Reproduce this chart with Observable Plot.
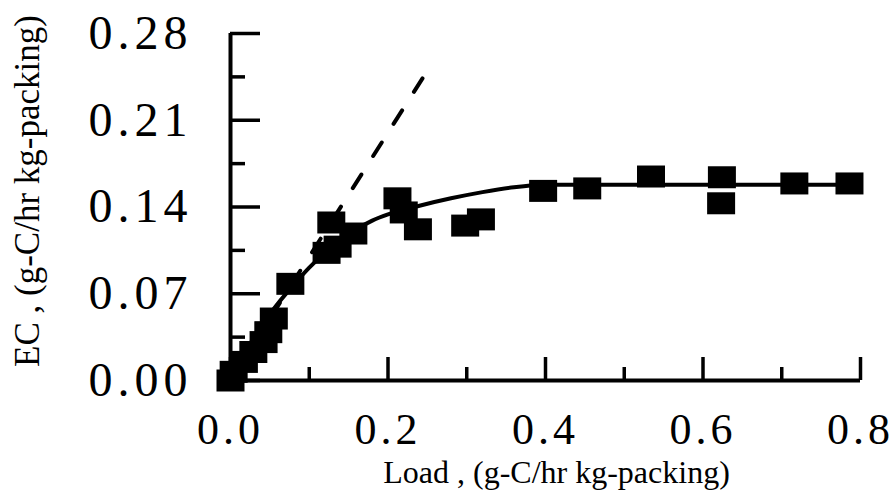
<!DOCTYPE html>
<html><head><meta charset="utf-8">
<script src="https://cdn.jsdelivr.net/npm/d3@7"></script>
<script src="https://cdn.jsdelivr.net/npm/@observablehq/plot@0.6"></script>
<style>
html,body{margin:0;padding:0;background:#fff;}
g[aria-label="x-axis tick label"] text{letter-spacing:4px;}
g[aria-label="y-axis tick label"] text{letter-spacing:5px;}
</style></head><body><div id="chart"></div>
<script>
// Measured points: Load vs EC
const loadX = [0.000, 0.004, 0.017, 0.029, 0.042, 0.048, 0.055, 0.076, 0.122, 0.136, 0.128, 0.156, 0.212, 0.220, 0.238, 0.298, 0.318, 0.397, 0.453, 0.534, 0.624, 0.623, 0.716, 0.786];
const ecY   = [0.000, 0.007, 0.015, 0.023, 0.031, 0.039, 0.050, 0.078, 0.103, 0.108, 0.1275, 0.1186, 0.147, 0.1356, 0.122, 0.125, 0.130, 0.153, 0.155, 0.1646, 0.164, 0.143, 0.159, 0.159];
// Fitted curve (solid)
const fitX = [0, 0.02, 0.04, 0.06, 0.08, 0.10, 0.12, 0.14, 0.16, 0.18, 0.20, 0.24, 0.28, 0.32, 0.36, 0.40, 0.50, 0.60, 0.70, 0.80];
const fitY = [0, 0.024, 0.045, 0.062, 0.077, 0.091, 0.103, 0.113, 0.122, 0.129, 0.134, 0.141, 0.147, 0.152, 0.156, 0.158, 0.158, 0.158, 0.158, 0.158];
// 100% removal line (dashed)
const refX = [0, 0.25];
const refY = [0, 0.25];
// Ticks
const xMajor = [0, 0.2, 0.4, 0.6, 0.8];
const xMinor = [0.1, 0.3, 0.5, 0.7];
const xTickLabels = ["0.0", "0.2", "0.4", "0.6", "0.8"];
const yMajor = [0, 0.07, 0.14, 0.21, 0.28];
const yMinor = [0.035, 0.105, 0.175, 0.245];
const yTickLabels = ["0.00", "0.07", "0.14", "0.21", "0.28"];
const xTitle = "Load , (g-C/hr kg-packing)";
const yTitle = "EC , (g-C/hr kg-packing)";

const points = loadX.map((x, i) => ({load: x, ec: ecY[i]}));
const fit = fitX.map((x, i) => ({load: x, ec: fitY[i]}));
const ref = refX.map((x, i) => ({load: x, ec: refY[i]}));

const rectSymbol = {draw(ctx) { ctx.rect(-14, -11, 28, 22); }};
const font = "'Liberation Serif', 'Times New Roman', serif";

const chart = Plot.plot({
  width: 893, height: 490,
  marginLeft: 230, marginRight: 33, marginTop: 33, marginBottom: 110,
  style: {fontFamily: font, color: "black", background: "white", overflow: "visible"},
  x: {domain: [0, 0.8], label: null},
  y: {domain: [0, 0.28], label: null},
  marks: [
    Plot.axisX(xMajor, {tickSize: 0, tickPadding: 32, fontSize: 44, label: null, fontFamily: font,
      tickFormat: d => xTickLabels[xMajor.indexOf(d)]}),
    Plot.axisX(xMajor, {tickSize: -23, strokeWidth: 3.5, label: null, tickFormat: () => ""}),
    Plot.axisX(xMinor, {tickSize: -13, strokeWidth: 3.5, label: null, tickFormat: () => ""}),
    Plot.axisY(yMajor, {tickSize: 0, tickPadding: 38, fontSize: 48, label: null, fontFamily: font,
      tickFormat: d => yTickLabels[yMajor.indexOf(d)]}),
    Plot.axisY(yMajor, {tickSize: -30, strokeWidth: 3.5, label: null, tickFormat: () => ""}),
    Plot.axisY(yMinor, {tickSize: -15, strokeWidth: 3.5, label: null, tickFormat: () => ""}),
    Plot.ruleX([0], {strokeWidth: 4}),
    Plot.ruleY([0], {strokeWidth: 4}),
    Plot.line(ref, {x: "load", y: "ec", strokeWidth: 4, strokeDasharray: "16,22", strokeLinecap: "round"}),
    Plot.line(fit, {x: "load", y: "ec", strokeWidth: 4, curve: "monotone-x"}),
    Plot.dot(points, {x: "load", y: "ec", symbol: rectSymbol, fill: "black", stroke: "none"}),
    Plot.text([xTitle], {frameAnchor: "bottom", lineAnchor: "middle", textAnchor: "middle", dx: 11, dy: 92, fontSize: 32, fontFamily: font, fill: "black"}),
    Plot.text([yTitle], {frameAnchor: "left", lineAnchor: "middle", textAnchor: "middle", dx: -203, dy: -16, rotate: -90, fontSize: 35, fontFamily: font, fill: "black"})
  ]
});
document.getElementById("chart").appendChild(chart);
</script></body></html>
